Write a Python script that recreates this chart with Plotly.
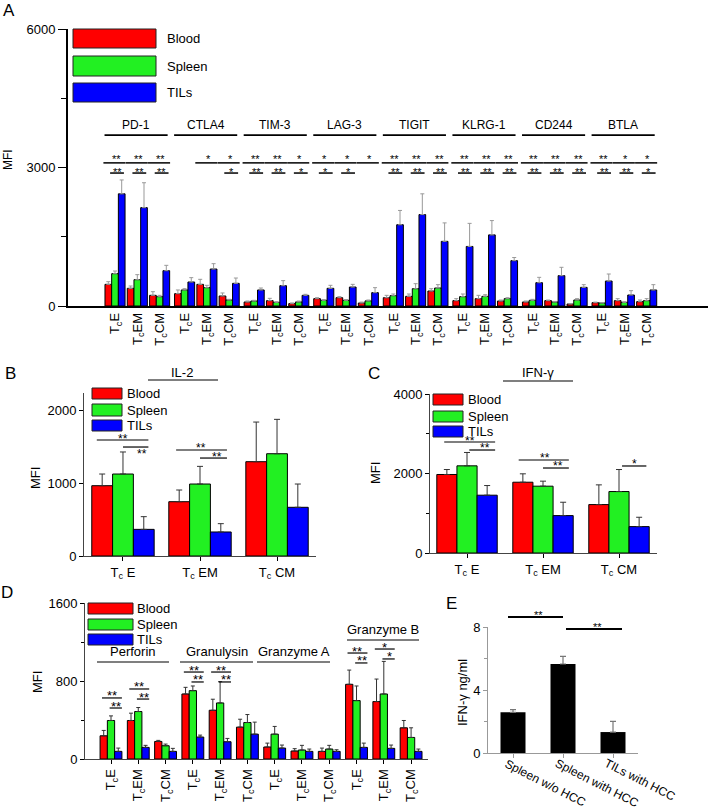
import plotly.graph_objects as go
import numpy as np

# ---------------- data ----------------
markers_a = ["PD-1", "CTLA4", "TIM-3", "LAG-3", "TIGIT", "KLRG-1", "CD244", "BTLA"]
subsets = ["E", "EM", "CM"]

blood_a = [469, 383, 231, 267, 469, 217, 87, 116, 51, 159, 180, 65,
           180, 209, 325, 116, 159, 108, 87, 116, 43, 72, 116, 94]
blood_a_err = [58, 50, 79, 80, 109, 65, 21, 50, 15, 21, 22, 20,
               51, 51, 50, 43, 72, 22, 21, 14, 10, 12, 43, 36]
spleen_a = [700, 570, 202, 347, 397, 130, 108, 79, 87, 123, 123, 110,
            224, 375, 390, 202, 209, 159, 123, 87, 130, 65, 79, 116]
spleen_a_err = [58, 109, 29, 28, 51, 15, 15, 12, 20, 15, 15, 20,
                36, 109, 72, 58, 36, 21, 21, 12, 29, 10, 12, 43]
tils_a = [2430, 2130, 765, 520, 801, 491, 347, 440, 231, 383, 411, 289,
          1760, 1980, 1400, 1290, 1540, 982, 505, 657, 404, 541, 238, 347]
tils_a_err = [300, 540, 116, 94, 116, 115, 43, 109, 22, 65, 58, 108,
              310, 450, 400, 500, 310, 68, 116, 181, 58, 152, 94, 115]
sig_top_a = ["**", "**", "**", "", "*", "*", "**", "**", "*", "*", "*", "*",
             "**", "**", "**", "**", "**", "**", "**", "**", "**", "**", "*", "*"]
sig_low_a = ["**", "**", "**", "", "", "*", "**", "**", "*", "*", "*", "",
             "**", "**", "**", "**", "**", "**", "**", "**", "**", "**", "**", "*"]

# IL-2
blood_b = [963, 744, 1292]
blood_b_err = [160, 160, 543]
spleen_b = [1123, 986, 1401]
spleen_b_err = [302, 242, 471]
tils_b = [365, 329, 667]
tils_b_err = [174, 114, 319]

# IFN-gamma
blood_c = [1975, 1781, 1218]
blood_c_err = [125, 211, 496]
spleen_c = [2193, 1681, 1546]
spleen_c_err = [336, 126, 554]
tils_c = [1454, 941, 664]
tils_c_err = [243, 336, 235]

# cytotoxic molecules
markers_d = ["Perforin", "Granulysin", "Granzyme A", "Granzyme B"]
blood_d = [238, 395, 180, 667, 500, 327, 123, 82, 78, 766, 589, 320]
blood_d_err = [55, 75, 11, 68, 113, 81, 40, 24, 34, 146, 231, 75]
spleen_d = [395, 487, 136, 701, 575, 374, 255, 92, 102, 599, 667, 221]
spleen_d_err = [47, 41, 17, 48, 218, 82, 79, 48, 38, 150, 334, 99]
tils_d = [78, 119, 78, 225, 177, 255, 112, 78, 78, 119, 109, 78]
tils_d_err = [34, 21, 31, 20, 34, 123, 31, 24, 17, 44, 34, 24]

# ELISA
groups_e = ["Spleen w/o HCC", "Spleen with HCC", "TILs with HCC"]
ifn_e = [2.58, 5.65, 1.33]
ifn_e_err = [0.17, 0.49, 0.68]

# ---------------- helpers ----------------
W, H = 708, 810
FONT = "Arial, Liberation Sans, sans-serif"
RED, GREEN, BLUE = "#ff0000", "#22f022", "#0000ff"


def fx(p):
    return p / W


def fy(p):
    return 1 - p / H


fig = go.Figure()
shapes = []
notes = []


def note(text, x, y, size=13, xref="paper", yref="paper", **kw):
    d = dict(text=text, x=x, y=y, xref=xref, yref=yref, showarrow=False,
             xanchor="center", yanchor="middle",
             font=dict(size=size, family=FONT, color="black"))
    d.update(kw)
    notes.append(d)


def hline(x0, x1, y, xref="paper", yref="paper", width=1.2):
    shapes.append(dict(type="line", x0=x0, x1=x1, y0=y, y1=y, xref=xref, yref=yref,
                       line=dict(color="black", width=width)))


def add_bars(pos, series, w, ax, errcol, capw=2, lw=1):
    for k, (vals, errs, col) in enumerate(series):
        fig.add_trace(go.Bar(
            x=np.asarray(pos) + (k - 1) * w, y=vals, width=w,
            marker=dict(color=col, line=dict(color="black", width=lw)),
            error_y=dict(type="data", array=errs, arrayminus=[0] * len(vals),
                         symmetric=False, color=errcol, thickness=1, width=capw),
            xaxis="x" + ax, yaxis="y" + ax, showlegend=False))


def legend_boxes(x0, x1, rows, tx, size=13):
    for (y0, y1), lab, col in zip(rows, ["Blood", "Spleen", "TILs"],
                                  [RED, GREEN, BLUE]):
        shapes.append(dict(type="rect", xref="paper", yref="paper",
                           x0=fx(x0), x1=fx(x1), y0=fy(y1), y1=fy(y0),
                           fillcolor=col, line=dict(color="#222", width=1)))
        note(lab, fx(tx), fy((y0 + y1) / 2), size=size, xanchor="left")


# ---------------- panel A ----------------
idx = np.arange(24)
pos_a = idx + 0.12 * (idx // 3)
series_a = [(blood_a, blood_a_err, RED), (spleen_a, spleen_a_err, GREEN),
            (tils_a, tils_a_err, BLUE)]
add_bars(pos_a, series_a, 0.3, "", "#999999", capw=2)

for i, c in enumerate(pos_a):
    if sig_top_a[i]:
        hline(c - 0.52, c + 0.47, 3100, "x", "y", 1.5)
        note(sig_top_a[i], c + 0.05, 3100, size=11, xref="x", yref="y", yshift=4)
    if sig_low_a[i]:
        hline(c - 0.22, c + 0.4, 2880, "x", "y", 1.5)
        note(sig_low_a[i], c + 0.1, 2880, size=11, xref="x", yref="y", yshift=1)
for m, name in enumerate(markers_a):
    c0, c2 = pos_a[3 * m], pos_a[3 * m + 2]
    hline(c0 - 0.47, c2 + 0.36, 3700, "x", "y", 1.8)
    note(name, (c0 + c2) / 2 - 0.05, 3930, size=12, xref="x", yref="y")
legend_boxes(73, 156, [(29, 48), (56, 76), (83, 102)], 165, size=13)
note("A", fx(9), fy(10), size=17)
note("MFI", fx(8), fy(160), size=12, textangle=-90)

# ---------------- panel B ----------------
add_bars([0, 1, 2], [(blood_b, blood_b_err, RED), (spleen_b, spleen_b_err, GREEN),
                     (tils_b, tils_b_err, BLUE)], 0.27, "2", "#333333", capw=3)
hline(-0.34, 0.33, 1589, "x2", "y2")
note("**", 0.0, 1589, size=12, xref="x2", yref="y2", yshift=1)
hline(0.0, 0.33, 1493, "x2", "y2")
note("**", 0.25, 1384, size=12, xref="x2", yref="y2", yshift=1)
hline(0.69, 1.35, 1452, "x2", "y2")
note("**", 1.01, 1452, size=12, xref="x2", yref="y2", yshift=2)
hline(1.0, 1.35, 1342, "x2", "y2")
note("**", 1.22, 1342, size=12, xref="x2", yref="y2", yshift=1)
note("IL-2", fx(182), fy(372), size=13)
hline(fx(148), fx(218), fy(380))
legend_boxes(92, 122, [(388, 399), (404, 416), (420, 431)], 125, size=13)
note("B", fx(10), fy(373), size=17)
note("MFI", fx(35), fy(478), size=13, textangle=-90)

# ---------------- panel C ----------------
add_bars([0, 1, 2], [(blood_c, blood_c_err, RED), (spleen_c, spleen_c_err, GREEN),
                     (tils_c, tils_c_err, BLUE)], 0.265, "3", "#333333", capw=3)
hline(-0.3, 0.37, 2792, "x3", "y3")
note("**", 0.04, 2792, size=12, xref="x3", yref="y3", yshift=1)
hline(0.03, 0.37, 2591, "x3", "y3")
note("**", 0.24, 2591, size=12, xref="x3", yref="y3", yshift=2)
hline(0.68, 1.34, 2340, "x3", "y3")
note("**", 1.03, 2340, size=12, xref="x3", yref="y3", yshift=2)
hline(1.0, 1.34, 2138, "x3", "y3")
note("**", 1.2, 2138, size=12, xref="x3", yref="y3", yshift=2)
hline(2.04, 2.36, 2189, "x3", "y3")
note("*", 2.2, 2189, size=12, xref="x3", yref="y3", yshift=2)
note("IFN-\u03b3", fx(538), fy(372), size=13)
hline(fx(503), fx(573), fy(381))
legend_boxes(433, 463, [(394, 405), (411, 422), (426, 437)], 466, size=13)
note("C", fx(374), fy(373), size=17)
note("MFI", fx(375), fy(473), size=13, textangle=-90)

# ---------------- panel D ----------------
pos_d = np.arange(12)
add_bars(pos_d, [(blood_d, blood_d_err, RED), (spleen_d, spleen_d_err, GREEN),
                 (tils_d, tils_d_err, BLUE)], 0.267, "4", "#333333", capw=2)
sig_d = [(0, 626, 523, "**"), (1, 718, 615, "**"), (3, 892, 790, "**"),
         (4, 892, 790, "**"), (9, 1087, 985, "**"), (10, 1128, 1026, "*")]
for g, y1, y2, s in sig_d:
    hline(g - 0.33, g + 0.4, y1, "x4", "y4")
    note(s, g + 0.03, y1, size=13, xref="x4", yref="y4", yshift=2)
    hline(g - 0.05, g + 0.4, y2, "x4", "y4")
    note(s, g + 0.2, y2, size=13, xref="x4", yref="y4", yshift=2)
for name, (x0, x1, ly) in zip(markers_d, [(97, 169, 662), (180, 253, 662),
                                          (257, 330, 662), (347, 419, 640)]):
    hline(fx(x0), fx(x1), fy(ly))
    note(name, fx((x0 + x1) / 2), fy(ly - 1), size=13, yanchor="bottom")
legend_boxes(88, 133, [(603, 614), (619, 630), (634, 645)], 135, size=13)
note("D", fx(7), fy(592), size=17)
note("MFI", fx(37), fy(682), size=13, textangle=-90)

# ---------------- panel E ----------------
fig.add_trace(go.Bar(
    x=[0, 1, 2], y=ifn_e, width=0.5, marker=dict(color="black", line=dict(width=0)),
    error_y=dict(type="data", array=ifn_e_err, arrayminus=[0, 0, 0], symmetric=False,
                 color="#777777", thickness=1.2, width=3),
    xaxis="x5", yaxis="y5", showlegend=False))
hline(fx(508), fx(563), fy(617), width=1.8)
note("**", fx(538), fy(617), size=11, yshift=2)
hline(fx(566), fx(622), fy(629), width=1.8)
note("**", fx(597), fy(629), size=11, yshift=2)
for i, lab in enumerate(groups_e):
    note(lab, i - 0.24, fy(755), size=12, xref="x5", textangle=27,
         xanchor="left", yanchor="top", borderpad=0)
note("E", fx(451), fy(603), size=17)
note("IFN-\u03b3 ng/ml", fx(462), fy(693), size=13, textangle=-90)

# ---------------- axes ----------------
tick_font = dict(size=13, family=FONT, color="black")


def ax(**kw):
    d = dict(showgrid=False, zeroline=False, showline=True, linecolor="black",
             linewidth=1, tickfont=tick_font, tickcolor="black", ticks="outside",
             ticklen=4, fixedrange=True, automargin=False)
    d.update(kw)
    return d


lab_a = ["T<sub>c</sub>" + s for _ in markers_a for s in subsets]
lab_bc = ["T<sub>c</sub> " + s for s in subsets]
lab_d = ["T<sub>c</sub>" + s for _ in markers_d for s in subsets]

fig.update_layout(
    width=W, height=H, margin=dict(l=0, r=0, t=0, b=0, autoexpand=False),
    paper_bgcolor="white", plot_bgcolor="white", barmode="overlay",
    font=dict(family=FONT, color="black"),
    xaxis=ax(domain=[fx(68), 1], range=[-2.108, 26.59], anchor="y",
             tickvals=pos_a, ticktext=lab_a, tickangle=-90, ticks="", linewidth=1.5),
    yaxis=ax(domain=[fy(306), fy(29)], range=[0, 6000], anchor="x",
             tickvals=[0, 3000, 6000], ticklen=8, linewidth=2,
             minor=dict(tickvals=[1500, 4500], ticks="outside", ticklen=5)),
    xaxis2=ax(domain=[fx(84), fx(316)], range=[-0.506, 2.506], anchor="y2",
              tickvals=[0, 1, 2], ticktext=lab_bc, linecolor="#444"),
    yaxis2=ax(domain=[fy(556), fy(393)], range=[0, 2233], anchor="x2",
              tickvals=[0, 1000, 2000], linecolor="#444"),
    xaxis3=ax(domain=[fx(430), fx(657)], range=[-0.487, 2.5], anchor="y3",
              tickvals=[0, 1, 2], ticktext=lab_bc, linecolor="#444"),
    yaxis3=ax(domain=[fy(553), fy(394)], range=[0, 4000], anchor="x3",
              tickvals=[0, 2000, 4000], linecolor="#444",
              minor=dict(tickvals=[1000, 3000], ticks="outside", ticklen=3)),
    xaxis4=ax(domain=[fx(85), fx(428)], range=[-0.953, 11.62], anchor="y4",
              tickvals=pos_d, ticktext=lab_d, tickangle=-90, linecolor="#444"),
    yaxis4=ax(domain=[fy(759), fy(603)], range=[0, 1600], anchor="x4",
              tickvals=[0, 800, 1600], linecolor="#444",
              minor=dict(tickvals=[400, 1200], ticks="outside", ticklen=3)),
    xaxis5=ax(domain=[fx(488), fx(638)], range=[-0.5, 2.5], anchor="y5",
              tickvals=[0, 1, 2], showticklabels=False,
              linecolor="#999", tickcolor="#999"),
    yaxis5=ax(domain=[fy(753), fy(627)], range=[0, 8], anchor="x5",
              tickvals=[0, 4, 8], linecolor="#999", tickcolor="#999",
              minor=dict(tickvals=[2, 6], ticks="outside", ticklen=3, tickcolor="#999")),
    shapes=shapes, annotations=notes,
)

# the page's default 8px body margin would push the figure off the window
fig.write_html("out.html", config={"displayModeBar": False},
               post_script="document.body.style.margin='0';")
